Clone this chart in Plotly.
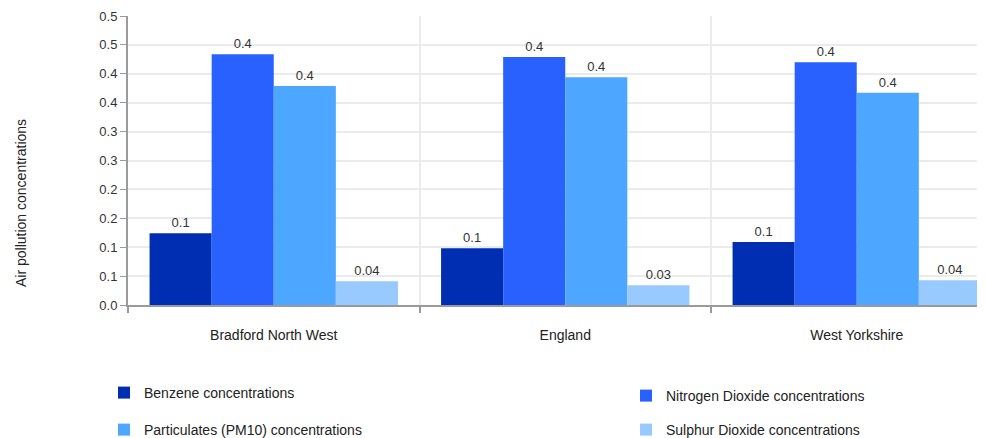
import plotly.graph_objects as go

areas = ["Bradford North West", "England", "West Yorkshire"]
benzene = [0.124, 0.098, 0.109]
nitrogen_dioxide = [0.434, 0.429, 0.420]
particulates_pm10 = [0.379, 0.394, 0.367]
sulphur_dioxide = [0.041, 0.034, 0.043]

series_names = [
    "Benzene concentrations",
    "Nitrogen Dioxide concentrations",
    "Particulates (PM10) concentrations",
    "Sulphur Dioxide concentrations",
]
series_values = [benzene, nitrogen_dioxide, particulates_pm10, sulphur_dioxide]
series_colors = ["#002EB3", "#2961FF", "#4DA6FF", "#99CAFF"]
series_legends = ["legend", "legend2", "legend3", "legend4"]

y_tick_values = [0, 0.05, 0.1, 0.15, 0.2, 0.25, 0.3, 0.35, 0.4, 0.45, 0.5]
y_tick_labels = ["0.0", "0.1", "0.1", "0.2", "0.2", "0.3", "0.3", "0.4", "0.4", "0.5", "0.5"]

FONT = "Liberation Sans, Arial, sans-serif"

fig = go.Figure()
for name, vals, col, lg in zip(series_names, series_values, series_colors, series_legends):
    fig.add_trace(go.Bar(
        x=areas, y=vals, name=name, marker=dict(color=col, line=dict(width=0)),
        texttemplate="%{y:.1r}", textposition="outside",
        textfont=dict(size=13, color="#333333", family=FONT),
        cliponaxis=False, legend=lg,
    ))

# the page body adds an 8px offset; the figure fills the rest of the 985x438 window
OFF = 8
W, H = 985 - OFF, 438 - OFF
ml, mr, mt, mb = 128 - OFF, 0, 16 - OFF, 438 - 305
plot_w = W - ml - mr
plot_h = H - mt - mb
cat_px = 291.5


def px_x(px):
    return (px - OFF - ml) / plot_w


def px_y(py):
    return (mt + plot_h - (py - OFF)) / plot_h


# legend boxes: (left px, center y px) in window pixels
legend_pos = [(104, 393), (626, 396), (104, 430), (626, 430)]
legend_layout = {}
for lg, (lx, ly) in zip(series_legends, legend_pos):
    legend_layout[lg] = dict(
        orientation="h", x=px_x(lx), xanchor="left",
        y=px_y(ly), yanchor="middle",
        font=dict(size=14, color="#222222", family=FONT),
        bgcolor="rgba(0,0,0,0)", borderwidth=0, itemclick=False,
    )

fig.update_layout(
    width=W, height=H,
    margin=dict(l=ml, r=mr, t=mt, b=mb, pad=0, autoexpand=False),
    paper_bgcolor="white", plot_bgcolor="white",
    font=dict(family=FONT, size=13, color="#333333"),
    barmode="group", bargap=0.148, bargroupgap=0,
    showlegend=True,
    xaxis=dict(
        type="category", range=[-0.5, -0.5 + plot_w / cat_px],
        tickson="boundaries", ticks="outside", ticklen=6, tickwidth=2, tickcolor="#9a9a9a",
        showline=True, linecolor="#9a9a9a", linewidth=2,
        showgrid=True, gridcolor="#ebebeb", gridwidth=2,
        tickfont=dict(size=14, color="#222222", family=FONT),
        ticklabelstandoff=16, zeroline=False, automargin=False,
    ),
    yaxis=dict(
        range=[0, 0.5], tickvals=y_tick_values, ticktext=y_tick_labels,
        ticks="outside", ticklen=6, tickwidth=1, tickcolor="#9a9a9a",
        showline=True, linecolor="#9a9a9a", linewidth=2,
        showgrid=True, gridcolor="#ebebeb", gridwidth=2,
        tickfont=dict(size=13, color="#333333", family=FONT),
        zeroline=False, automargin=False,
    ),
    annotations=[dict(
        text="Air pollution concentrations", textangle=-90,
        xref="paper", yref="paper", x=px_x(21), y=px_y(203),
        xanchor="center", yanchor="middle", showarrow=False,
        font=dict(size=14, color="#222222", family=FONT),
    )],
    **legend_layout,
)

fig.write_html("out.html")
